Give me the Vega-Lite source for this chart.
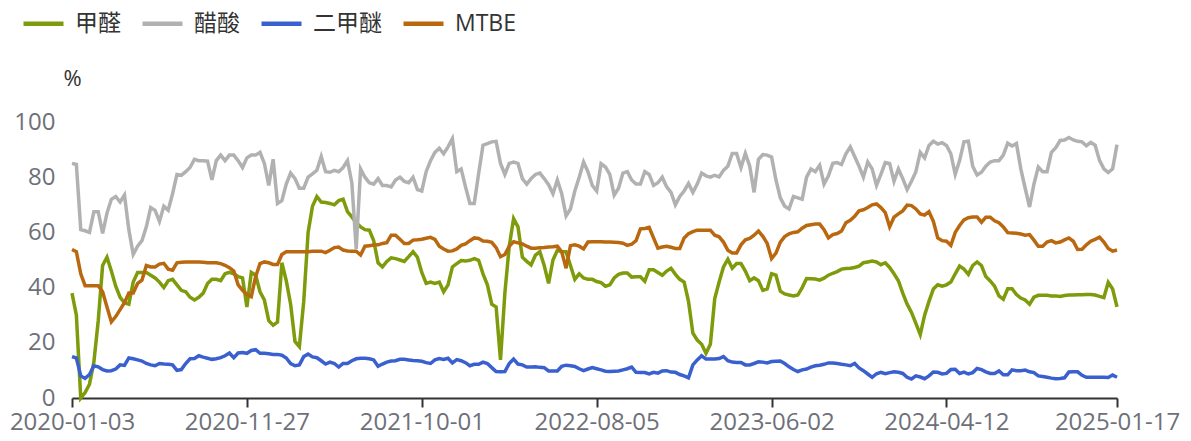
{
"$schema": "https://vega.github.io/schema/vega-lite/v6.json",
"width": 1045, "height": 276,
"autosize": {"type": "none"},
"padding": {"left": 72, "top": 122, "right": 74, "bottom": 43},
"background": "white",
"data": {"values": [
{"d":"2020-01-03","a":38,"b":85,"c":15,"m":53.8},
{"d":"2020-01-10","a":30,"b":84.6,"c":14.5,"m":53},
{"d":"2020-01-17","a":0,"b":61,"c":8,"m":45},
{"d":"2020-02-21","a":2,"b":60.6,"c":7.1,"m":40.7},
{"d":"2020-02-28","a":5,"b":60,"c":8.5,"m":40.7},
{"d":"2020-03-06","a":13,"b":67.5,"c":11.7,"m":40.7},
{"d":"2020-03-13","a":28,"b":67.5,"c":11.3,"m":40.7},
{"d":"2020-03-20","a":48,"b":59.6,"c":10.3,"m":38.5},
{"d":"2020-03-27","a":51,"b":67,"c":9.8,"m":33},
{"d":"2020-04-03","a":46,"b":72,"c":9.9,"m":27.6},
{"d":"2020-04-10","a":40.5,"b":73,"c":10.5,"m":29.5},
{"d":"2020-04-17","a":36.5,"b":71,"c":12,"m":32},
{"d":"2020-04-24","a":34.5,"b":73.5,"c":11.8,"m":34.5},
{"d":"2020-05-08","a":34,"b":61,"c":14.5,"m":38},
{"d":"2020-05-15","a":42,"b":52,"c":14.2,"m":38},
{"d":"2020-05-22","a":45.5,"b":55,"c":13.8,"m":41.5},
{"d":"2020-05-29","a":45.5,"b":57,"c":13.4,"m":42.7},
{"d":"2020-06-05","a":45.5,"b":62,"c":12.5,"m":48},
{"d":"2020-06-12","a":44.5,"b":69,"c":12,"m":47.5},
{"d":"2020-06-19","a":43.5,"b":68,"c":11.7,"m":47.5},
{"d":"2020-06-26","a":42,"b":64,"c":12.5,"m":48.5},
{"d":"2020-07-03","a":40,"b":69.5,"c":12.3,"m":48.8},
{"d":"2020-07-10","a":42.5,"b":68,"c":12.2,"m":46.7},
{"d":"2020-07-17","a":43,"b":74,"c":12,"m":46.3},
{"d":"2020-07-24","a":41,"b":81,"c":10,"m":49},
{"d":"2020-07-31","a":39,"b":80.7,"c":10.3,"m":49.2},
{"d":"2020-08-07","a":38.5,"b":82,"c":12.5,"m":49.3},
{"d":"2020-08-14","a":36.5,"b":83.5,"c":14.2,"m":49.3},
{"d":"2020-08-21","a":35.5,"b":86.5,"c":14.3,"m":49.3},
{"d":"2020-08-28","a":36.5,"b":86,"c":15.3,"m":49.3},
{"d":"2020-09-04","a":38,"b":86,"c":14.8,"m":49.2},
{"d":"2020-09-11","a":41.5,"b":85.8,"c":14.4,"m":49},
{"d":"2020-09-18","a":43,"b":79,"c":14,"m":49},
{"d":"2020-09-25","a":43,"b":86,"c":14.2,"m":49},
{"d":"2020-10-16","a":42.5,"b":88,"c":14.6,"m":48.7},
{"d":"2020-10-23","a":45,"b":86,"c":15.3,"m":48.1},
{"d":"2020-10-30","a":45.5,"b":88,"c":16.3,"m":47.2},
{"d":"2020-11-06","a":45,"b":88,"c":14.6,"m":46},
{"d":"2020-11-13","a":44,"b":86,"c":16.3,"m":41},
{"d":"2020-11-20","a":43.5,"b":83.5,"c":16.5,"m":39},
{"d":"2020-11-27","a":33,"b":87,"c":16.2,"m":37.5},
{"d":"2020-12-04","a":45.5,"b":88,"c":17.2,"m":36.7},
{"d":"2020-12-11","a":44.5,"b":88,"c":17.5,"m":44},
{"d":"2020-12-18","a":38.5,"b":89,"c":16.2,"m":48.7},
{"d":"2020-12-25","a":35.5,"b":85,"c":16.2,"m":49.3},
{"d":"2021-01-08","a":28,"b":77,"c":16,"m":49},
{"d":"2021-01-15","a":26.4,"b":86.5,"c":15.8,"m":48.4},
{"d":"2021-01-22","a":27.5,"b":70.5,"c":15.8,"m":48.4},
{"d":"2021-01-29","a":49,"b":71.5,"c":15.5,"m":52},
{"d":"2021-02-05","a":42.5,"b":77.5,"c":14.5,"m":53},
{"d":"2021-02-26","a":34,"b":81.5,"c":12.5,"m":53},
{"d":"2021-03-05","a":20.5,"b":79.5,"c":11.7,"m":53},
{"d":"2021-03-12","a":18.6,"b":76,"c":12,"m":53},
{"d":"2021-03-19","a":35,"b":76,"c":15,"m":53},
{"d":"2021-03-26","a":60,"b":80,"c":15.9,"m":53},
{"d":"2021-04-02","a":69.5,"b":81.2,"c":14.9,"m":53.2},
{"d":"2021-04-09","a":73,"b":82.5,"c":14.6,"m":53.2},
{"d":"2021-04-16","a":71,"b":87.5,"c":13.5,"m":53.2},
{"d":"2021-04-23","a":70.8,"b":82,"c":12.3,"m":52.7},
{"d":"2021-05-07","a":70.5,"b":81.8,"c":13,"m":53.5},
{"d":"2021-05-14","a":70,"b":82.5,"c":12.5,"m":54.5},
{"d":"2021-05-21","a":71.5,"b":82,"c":11.2,"m":54.7},
{"d":"2021-05-28","a":72,"b":83.5,"c":12.5,"m":53.6},
{"d":"2021-06-04","a":67.5,"b":86,"c":12.5,"m":53.3},
{"d":"2021-06-11","a":65.6,"b":78,"c":13.5,"m":53.2},
{"d":"2021-06-18","a":63.5,"b":54,"c":14.2,"m":53.2},
{"d":"2021-06-25","a":62,"b":83,"c":14.4,"m":51.8},
{"d":"2021-07-02","a":61,"b":80,"c":14.4,"m":55},
{"d":"2021-07-09","a":60.8,"b":78,"c":14.2,"m":55.2},
{"d":"2021-07-16","a":57,"b":77.5,"c":13.8,"m":55.4},
{"d":"2021-07-23","a":49,"b":79.5,"c":11.5,"m":55.5},
{"d":"2021-07-30","a":47.5,"b":77,"c":12.3,"m":56},
{"d":"2021-08-06","a":49.5,"b":77,"c":13,"m":56.3},
{"d":"2021-08-13","a":50.8,"b":76.5,"c":13.4,"m":59},
{"d":"2021-08-20","a":50.5,"b":79,"c":13.5,"m":59},
{"d":"2021-08-27","a":50,"b":80,"c":14,"m":57.5},
{"d":"2021-09-03","a":49.5,"b":78.5,"c":14,"m":56},
{"d":"2021-09-10","a":51.2,"b":78,"c":13.8,"m":56},
{"d":"2021-09-17","a":53,"b":80,"c":13.6,"m":57.2},
{"d":"2021-09-24","a":51,"b":75.5,"c":13.5,"m":57.3},
{"d":"2021-10-01","a":45.5,"b":75,"c":13.3,"m":57.5},
{"d":"2021-10-15","a":41.5,"b":82,"c":12.8,"m":57.9},
{"d":"2021-10-22","a":42,"b":86,"c":12.5,"m":58.2},
{"d":"2021-10-29","a":41.5,"b":89,"c":13.8,"m":57.5},
{"d":"2021-11-05","a":42,"b":90.5,"c":14.3,"m":55},
{"d":"2021-11-12","a":38.5,"b":88.5,"c":14,"m":54},
{"d":"2021-11-19","a":41,"b":91,"c":14.4,"m":53.2},
{"d":"2021-11-26","a":47.5,"b":94,"c":12.7,"m":53.3},
{"d":"2021-12-03","a":48.7,"b":82,"c":13.9,"m":54},
{"d":"2021-12-10","a":49.8,"b":83,"c":13.5,"m":55.3},
{"d":"2021-12-17","a":49.6,"b":76.5,"c":12.8,"m":55.8},
{"d":"2021-12-24","a":49.9,"b":70.5,"c":11.7,"m":57},
{"d":"2022-01-07","a":50.5,"b":70.5,"c":12.2,"m":58},
{"d":"2022-01-14","a":49.9,"b":81.3,"c":12.2,"m":57.8},
{"d":"2022-01-21","a":45,"b":91.6,"c":13,"m":56.9},
{"d":"2022-01-28","a":41,"b":92.2,"c":12.5,"m":56.8},
{"d":"2022-02-11","a":34,"b":92.8,"c":11,"m":56.4},
{"d":"2022-02-18","a":33,"b":93,"c":9.6,"m":54.5},
{"d":"2022-02-25","a":13.8,"b":85,"c":9.5,"m":51.2},
{"d":"2022-03-04","a":38,"b":81,"c":9.6,"m":52},
{"d":"2022-03-11","a":55,"b":85,"c":12.5,"m":55},
{"d":"2022-03-18","a":65,"b":85.5,"c":14.1,"m":56.6},
{"d":"2022-03-25","a":62,"b":85,"c":12.3,"m":56.2},
{"d":"2022-04-01","a":51,"b":79.5,"c":12,"m":55.8},
{"d":"2022-04-08","a":49.5,"b":77.5,"c":11.2,"m":55},
{"d":"2022-04-15","a":48.2,"b":79.5,"c":11.2,"m":54.3},
{"d":"2022-04-22","a":51.8,"b":81,"c":11.3,"m":54.3},
{"d":"2022-04-29","a":53,"b":81.5,"c":11.1,"m":54.4},
{"d":"2022-05-06","a":48,"b":79.5,"c":11,"m":54.5},
{"d":"2022-05-13","a":41.5,"b":77.3,"c":9.8,"m":54.7},
{"d":"2022-05-20","a":50,"b":74,"c":9.8,"m":54.8},
{"d":"2022-05-27","a":53.5,"b":79,"c":9.8,"m":55},
{"d":"2022-06-10","a":53,"b":74,"c":11.5,"m":53},
{"d":"2022-06-17","a":53,"b":66,"c":11.9,"m":47},
{"d":"2022-06-24","a":48,"b":68.5,"c":11.7,"m":55.2},
{"d":"2022-07-01","a":43,"b":75,"c":11.4,"m":55.5},
{"d":"2022-07-08","a":45,"b":80,"c":10.6,"m":55},
{"d":"2022-07-15","a":43.5,"b":85.5,"c":9.9,"m":54},
{"d":"2022-07-22","a":43,"b":82,"c":10.5,"m":56.5},
{"d":"2022-07-29","a":43,"b":77,"c":11,"m":56.6},
{"d":"2022-08-05","a":42.2,"b":75,"c":10.6,"m":56.6},
{"d":"2022-08-12","a":41.8,"b":84.9,"c":10.2,"m":56.6},
{"d":"2022-08-19","a":40.5,"b":83.7,"c":9.7,"m":56.5},
{"d":"2022-08-26","a":41,"b":81,"c":9.6,"m":56.5},
{"d":"2022-09-02","a":43.5,"b":73.5,"c":9.7,"m":56.4},
{"d":"2022-09-09","a":44.8,"b":76,"c":9.8,"m":56.3},
{"d":"2022-09-16","a":45.3,"b":81.5,"c":10.2,"m":56.1},
{"d":"2022-09-23","a":45.3,"b":82,"c":10.6,"m":55.3},
{"d":"2022-09-30","a":43.8,"b":79,"c":11.2,"m":55.7},
{"d":"2022-10-14","a":43.9,"b":77.5,"c":9.3,"m":57},
{"d":"2022-10-21","a":43.9,"b":77.5,"c":9.2,"m":61.3},
{"d":"2022-10-28","a":42.3,"b":82,"c":9.2,"m":61.4},
{"d":"2022-11-04","a":46.5,"b":81,"c":8.7,"m":61.8},
{"d":"2022-11-11","a":46.5,"b":77,"c":9.3,"m":58},
{"d":"2022-11-18","a":45.5,"b":78,"c":9,"m":54.3},
{"d":"2022-11-25","a":44.5,"b":80,"c":9.8,"m":54.7},
{"d":"2022-12-02","a":46,"b":76.5,"c":9.9,"m":55},
{"d":"2022-12-09","a":47,"b":74.5,"c":9.4,"m":54.6},
{"d":"2022-12-16","a":44.8,"b":70,"c":9.3,"m":54.2},
{"d":"2022-12-23","a":43,"b":73,"c":8.5,"m":54.2},
{"d":"2023-01-06","a":42,"b":75,"c":8,"m":58},
{"d":"2023-01-13","a":35,"b":77.7,"c":7.3,"m":59.5},
{"d":"2023-01-20","a":23.5,"b":74.5,"c":12,"m":60.3},
{"d":"2023-02-03","a":21,"b":77.5,"c":13.8,"m":60.8},
{"d":"2023-02-10","a":19.5,"b":81.5,"c":15.3,"m":60.8},
{"d":"2023-02-17","a":16.2,"b":80.5,"c":14.1,"m":60.8},
{"d":"2023-02-24","a":19.5,"b":80,"c":14.1,"m":60.8},
{"d":"2023-03-03","a":36,"b":80.7,"c":14.1,"m":59},
{"d":"2023-03-10","a":42,"b":80.1,"c":14.3,"m":58.4},
{"d":"2023-03-17","a":47.5,"b":82.5,"c":15,"m":56.5},
{"d":"2023-03-24","a":50.3,"b":84,"c":13.5,"m":53.5},
{"d":"2023-03-31","a":47,"b":88.6,"c":13,"m":52.5},
{"d":"2023-04-07","a":48.7,"b":88.6,"c":12.9,"m":52.5},
{"d":"2023-04-14","a":48.7,"b":83.5,"c":12.9,"m":55.5},
{"d":"2023-04-21","a":46,"b":88.6,"c":12,"m":57.3},
{"d":"2023-04-28","a":42.5,"b":84,"c":12,"m":57.8},
{"d":"2023-05-05","a":43.5,"b":74.5,"c":12.5,"m":59},
{"d":"2023-05-12","a":42.5,"b":86.5,"c":13.1,"m":60.5},
{"d":"2023-05-19","a":39,"b":88.2,"c":13,"m":58.6},
{"d":"2023-05-26","a":39.5,"b":88,"c":12.7,"m":56},
{"d":"2023-06-02","a":45,"b":87.3,"c":13.2,"m":50.5},
{"d":"2023-06-09","a":44.5,"b":79,"c":13.3,"m":52.5},
{"d":"2023-06-16","a":38.7,"b":72.5,"c":13.4,"m":56.5},
{"d":"2023-06-30","a":37.7,"b":69.5,"c":12.5,"m":58.5},
{"d":"2023-07-07","a":37.3,"b":68.5,"c":11.3,"m":59.5},
{"d":"2023-07-14","a":37,"b":73,"c":10.3,"m":60},
{"d":"2023-07-21","a":37.3,"b":72.5,"c":9.6,"m":60.2},
{"d":"2023-07-28","a":40,"b":72,"c":10.2,"m":61.5},
{"d":"2023-08-04","a":43.3,"b":80,"c":10.5,"m":62.5},
{"d":"2023-08-11","a":43.2,"b":83,"c":11.2,"m":62.8},
{"d":"2023-08-18","a":43.1,"b":82,"c":11.7,"m":63},
{"d":"2023-08-25","a":42.7,"b":84.3,"c":11.9,"m":63},
{"d":"2023-09-01","a":43.4,"b":77.5,"c":12.2,"m":61},
{"d":"2023-09-08","a":44.5,"b":80.5,"c":12.7,"m":58},
{"d":"2023-09-15","a":45.2,"b":85,"c":12.7,"m":59.2},
{"d":"2023-09-22","a":45.8,"b":85.3,"c":12.5,"m":59.6},
{"d":"2023-10-13","a":46.7,"b":84.6,"c":12.2,"m":60.5},
{"d":"2023-10-20","a":46.9,"b":88.5,"c":12,"m":63.5},
{"d":"2023-10-27","a":47,"b":91,"c":11.7,"m":64.4},
{"d":"2023-11-03","a":47.3,"b":87.5,"c":12.5,"m":65.8},
{"d":"2023-11-10","a":47.8,"b":84,"c":10.9,"m":67.8},
{"d":"2023-11-17","a":49,"b":80,"c":9.9,"m":68.2},
{"d":"2023-11-24","a":49.3,"b":85.5,"c":8.7,"m":69},
{"d":"2023-12-01","a":49.6,"b":83,"c":7.5,"m":70},
{"d":"2023-12-08","a":49.3,"b":77,"c":8.8,"m":70.3},
{"d":"2023-12-15","a":48.3,"b":81,"c":9.3,"m":69},
{"d":"2023-12-22","a":49,"b":85.3,"c":8.8,"m":67.2},
{"d":"2024-01-05","a":47.3,"b":85,"c":9.2,"m":62},
{"d":"2024-01-12","a":45,"b":78.5,"c":9.5,"m":65.5},
{"d":"2024-01-19","a":42.5,"b":83,"c":9.3,"m":66.7},
{"d":"2024-01-26","a":38,"b":79.5,"c":8.9,"m":67.8},
{"d":"2024-02-02","a":34,"b":75.5,"c":7.5,"m":69.9},
{"d":"2024-02-09","a":31,"b":78.5,"c":6.9,"m":69.7},
{"d":"2024-02-23","a":27,"b":82,"c":8,"m":68.5},
{"d":"2024-03-01","a":23,"b":89,"c":7.6,"m":66.7},
{"d":"2024-03-08","a":30,"b":87,"c":7,"m":66.3},
{"d":"2024-03-15","a":35,"b":91.5,"c":8,"m":67.5},
{"d":"2024-03-22","a":39.5,"b":93,"c":9.4,"m":64},
{"d":"2024-03-29","a":41,"b":92,"c":9.3,"m":58},
{"d":"2024-04-05","a":40.5,"b":92.5,"c":8.7,"m":57},
{"d":"2024-04-12","a":41,"b":91.5,"c":8.9,"m":56.8},
{"d":"2024-04-19","a":42,"b":88.5,"c":10.3,"m":55.3},
{"d":"2024-04-26","a":45,"b":81,"c":10.4,"m":60},
{"d":"2024-05-03","a":47.8,"b":86,"c":8.9,"m":62.5},
{"d":"2024-05-10","a":46.7,"b":92.8,"c":9.4,"m":64.5},
{"d":"2024-05-17","a":44.8,"b":93,"c":8.7,"m":65.3},
{"d":"2024-05-24","a":48,"b":84,"c":9.2,"m":65.6},
{"d":"2024-05-31","a":49.3,"b":80.8,"c":10.7,"m":65.6},
{"d":"2024-06-07","a":48,"b":81.8,"c":10.3,"m":63.7},
{"d":"2024-06-14","a":44,"b":84,"c":9.5,"m":65.5},
{"d":"2024-06-21","a":42.4,"b":85.5,"c":8.9,"m":65.5},
{"d":"2024-06-28","a":40.5,"b":86,"c":8.9,"m":64.2},
{"d":"2024-07-05","a":37,"b":86,"c":9.8,"m":63.5},
{"d":"2024-07-12","a":35.8,"b":88,"c":8.4,"m":62},
{"d":"2024-07-19","a":39.6,"b":92.3,"c":8.4,"m":59.9},
{"d":"2024-07-26","a":39.6,"b":91.3,"c":10.2,"m":59.8},
{"d":"2024-08-02","a":37.5,"b":92.2,"c":9.9,"m":59.7},
{"d":"2024-08-09","a":36.2,"b":83,"c":9.9,"m":59.4},
{"d":"2024-08-16","a":35.5,"b":76,"c":10.1,"m":59},
{"d":"2024-08-23","a":34,"b":69.2,"c":9.5,"m":59.2},
{"d":"2024-08-30","a":36.5,"b":77.5,"c":9.2,"m":57.2},
{"d":"2024-09-06","a":37.2,"b":83.7,"c":8,"m":55},
{"d":"2024-09-13","a":37.2,"b":82,"c":7.8,"m":55},
{"d":"2024-09-20","a":37.2,"b":82,"c":7.5,"m":56.5},
{"d":"2024-09-27","a":37,"b":89,"c":7.2,"m":57},
{"d":"2024-10-11","a":37,"b":90.7,"c":7,"m":56.2},
{"d":"2024-10-18","a":36.8,"b":93.3,"c":7.1,"m":56.5},
{"d":"2024-10-25","a":37.1,"b":93.5,"c":7.3,"m":57.3},
{"d":"2024-11-01","a":37.3,"b":94.4,"c":9.4,"m":58},
{"d":"2024-11-08","a":37.3,"b":93.5,"c":9.5,"m":56.8},
{"d":"2024-11-15","a":37.4,"b":93,"c":9.5,"m":53.8},
{"d":"2024-11-22","a":37.4,"b":92.8,"c":8.2,"m":53.9},
{"d":"2024-11-29","a":37.5,"b":91.4,"c":7.5,"m":55.5},
{"d":"2024-12-06","a":37.5,"b":92.6,"c":7.5,"m":56.8},
{"d":"2024-12-13","a":37.3,"b":91.6,"c":7.5,"m":57.5},
{"d":"2024-12-20","a":36.8,"b":86.1,"c":7.5,"m":58.3},
{"d":"2024-12-27","a":36.4,"b":83,"c":7.5,"m":56.5},
{"d":"2025-01-03","a":41.9,"b":81.7,"c":7.4,"m":54.2},
{"d":"2025-01-10","a":39.5,"b":83,"c":8.3,"m":53.2},
{"d":"2025-01-17","a":33,"b":91.8,"c":7.5,"m":53.6}
]},
"transform": [{"fold": ["a", "b", "c", "m"], "as": ["k", "v"]}],
"encoding": {
  "x": {"field": "d", "type": "ordinal", "sort": "ascending",
        "scale": {"type": "point", "padding": 0},
        "axis": {"title": null, "values": ["2020-01-03", "2020-11-27", "2021-10-01", "2022-08-05", "2023-06-02", "2024-04-12", "2025-01-17"]}},
  "y": {"field": "v", "type": "quantitative",
        "scale": {"domain": [0, 100], "nice": false, "zero": true},
        "axis": {"title": "%", "values": [0, 20, 40, 60, 80, 100]}}
},
"layer": [
  {"transform": [{"filter": "datum.k == 'a'"}], "mark": {"type": "line", "strokeWidth": 3.5},
   "encoding": {"color": {"datum": "甲醛", "scale": {"domain": ["甲醛", "醋酸", "二甲醚", "MTBE"], "range": ["#7d9b0b", "#b1b1b1", "#3a60cf", "#b9680f"]}}}},
  {"transform": [{"filter": "datum.k == 'b'"}], "mark": {"type": "line", "strokeWidth": 3.5},
   "encoding": {"color": {"datum": "醋酸", "scale": {"domain": ["甲醛", "醋酸", "二甲醚", "MTBE"], "range": ["#7d9b0b", "#b1b1b1", "#3a60cf", "#b9680f"]}}}},
  {"transform": [{"filter": "datum.k == 'c'"}], "mark": {"type": "line", "strokeWidth": 3.5},
   "encoding": {"color": {"datum": "二甲醚", "scale": {"domain": ["甲醛", "醋酸", "二甲醚", "MTBE"], "range": ["#7d9b0b", "#b1b1b1", "#3a60cf", "#b9680f"]}}}},
  {"transform": [{"filter": "datum.k == 'm'"}], "mark": {"type": "line", "strokeWidth": 3.5},
   "encoding": {"color": {"datum": "MTBE", "scale": {"domain": ["甲醛", "醋酸", "二甲醚", "MTBE"], "range": ["#7d9b0b", "#b1b1b1", "#3a60cf", "#b9680f"]}}}}
],
"config": {
  "view": {"stroke": null},
  "font": "Open Sans",
  "axis": {"grid": false, "labelFont": "Open Sans", "labelColor": "#6e7079", "labelFontSize": 24},
  "axisX": {"domainColor": "#333333", "domainWidth": 2, "tickColor": "#333333", "tickWidth": 2, "tickSize": 9, "labelPadding": 3, "labelAngle": 0, "labelOverlap": false, "labelFlush": false},
  "axisY": {"domain": false, "ticks": false, "labelPadding": 17,
            "titleAngle": 0, "titleX": 0, "titleY": -44, "titleAlign": "center", "titleBaseline": "middle",
            "titleFont": "Open Sans", "titleFontSize": 22, "titleFontWeight": "normal", "titleColor": "#333333"},
  "legend": {"orient": "none", "legendX": -51, "legendY": -121, "direction": "horizontal", "title": null,
             "symbolType": "stroke", "symbolSize": 1600, "symbolStrokeWidth": 4.5,
             "labelFont": "Open Sans, Noto Sans CJK SC", "labelFontSize": 23, "labelColor": "#333333",
             "labelOffset": 9, "columnPadding": 12, "padding": 0, "labelLimit": 0}
}
}
